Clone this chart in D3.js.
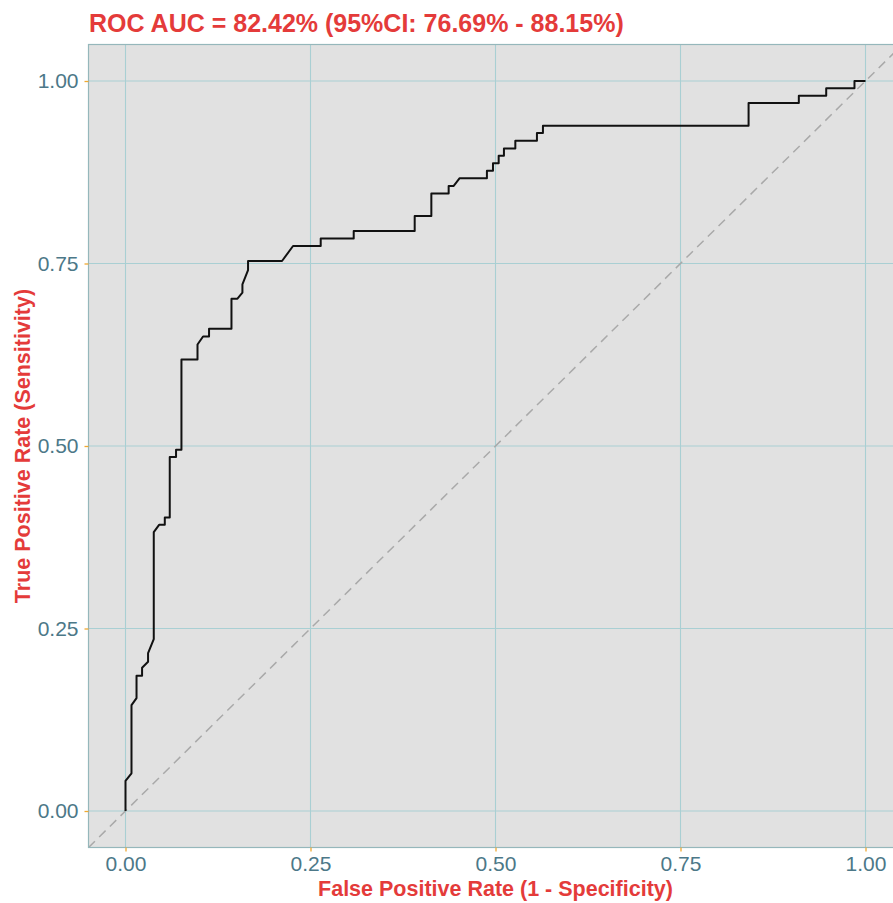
<!DOCTYPE html>
<html>
<head>
<meta charset="utf-8">
<script src="https://cdn.jsdelivr.net/npm/d3@7"></script>
<style>
  html, body { margin: 0; padding: 0; background: #ffffff; }
  svg { display: block; font-family: "Liberation Sans", Arial, Helvetica, sans-serif; }
</style>
</head>
<body>
<svg id="chart" width="893" height="903"></svg>
<script>
// ROC curve points (1 - specificity, sensitivity)
const fpr = [0, 0, 0.0081, 0.0081, 0.0149, 0.0149, 0.0224, 0.0224, 0.0305, 0.0305,
  0.0382, 0.0382, 0.0454, 0.0531, 0.0531, 0.0598, 0.0598, 0.0683, 0.0683, 0.0756,
  0.0756, 0.0973, 0.0973, 0.1048, 0.1129, 0.1129, 0.1432, 0.1432, 0.1513, 0.1580,
  0.1580, 0.1656, 0.1656, 0.2115, 0.2264, 0.2638, 0.2638, 0.3084, 0.3084, 0.3908,
  0.3908, 0.4133, 0.4133, 0.4367, 0.4367, 0.4435, 0.4516, 0.4884, 0.4884, 0.4966,
  0.4966, 0.5043, 0.5043, 0.5114, 0.5114, 0.5268, 0.5268, 0.5560, 0.5560, 0.5641,
  0.5641, 0.8420, 0.8420, 0.9099, 0.9099, 0.9469, 0.9469, 0.9851, 0.9851, 1];
const tpr = [0, 0.0412, 0.0517, 0.1450, 0.1547, 0.1853, 0.1853, 0.1962, 0.2045, 0.2164,
  0.2356, 0.3820, 0.3920, 0.3920, 0.4020, 0.4020, 0.4850, 0.4850, 0.4950, 0.4950,
  0.6185, 0.6185, 0.6390, 0.6500, 0.6500, 0.6606, 0.6606, 0.7018, 0.7018, 0.7100,
  0.7214, 0.7410, 0.7534, 0.7534, 0.7740, 0.7740, 0.7841, 0.7841, 0.7946, 0.7946,
  0.8151, 0.8151, 0.8459, 0.8459, 0.8563, 0.8563, 0.8669, 0.8669, 0.8769, 0.8769,
  0.8875, 0.8875, 0.8975, 0.8975, 0.9076, 0.9076, 0.9180, 0.9180, 0.9286, 0.9286,
  0.9386, 0.9386, 0.9698, 0.9698, 0.9798, 0.9798, 0.9900, 0.9900, 1, 1];

const tickValues = [0, 0.25, 0.5, 0.75, 1];
const tickLabels = ["0.00", "0.25", "0.50", "0.75", "1.00"];

const titleText = "ROC AUC = 82.42% (95%CI: 76.69% - 88.15%)";
const xTitle = "False Positive Rate (1 - Specificity)";
const yTitle = "True Positive Rate (Sensitivity)";

const red = "#e43b3a";
const tickText = "#4c7888";
const gridColor = "#a9cfd3";
const borderColor = "#95b7bb";
const panelFill = "#e1e1e1";
const tickColor = "#f0a830";

const svg = d3.select("#chart");

const panel = { left: 88.5, top: 44.5, right: 902.5, bottom: 847.5 };

const x = d3.scaleLinear().domain([-0.05, 1.05]).range([panel.left, panel.right]);
const y = d3.scaleLinear().domain([-0.05, 1.05]).range([panel.bottom, panel.top]);

// panel background
svg.append("rect")
  .attr("x", panel.left).attr("y", panel.top)
  .attr("width", panel.right - panel.left)
  .attr("height", panel.bottom - panel.top)
  .attr("fill", panelFill);

// grid lines
const grid = svg.append("g");
grid.selectAll("line.gx").data(tickValues).join("line")
  .attr("x1", d => x(d)).attr("x2", d => x(d))
  .attr("y1", panel.top).attr("y2", panel.bottom)
  .attr("stroke", gridColor).attr("stroke-width", 1.1);
grid.selectAll("line.gy").data(tickValues).join("line")
  .attr("y1", d => y(d)).attr("y2", d => y(d))
  .attr("x1", panel.left).attr("x2", panel.right)
  .attr("stroke", gridColor).attr("stroke-width", 1.1);

// reference diagonal
svg.append("clipPath").attr("id", "panelClip").append("rect")
  .attr("x", panel.left).attr("y", panel.top)
  .attr("width", panel.right - panel.left)
  .attr("height", panel.bottom - panel.top);

svg.append("line")
  .attr("clip-path", "url(#panelClip)")
  .attr("x1", x(-0.05)).attr("y1", y(-0.05))
  .attr("x2", x(1.05)).attr("y2", y(1.05))
  .attr("stroke", "#a9a9a9").attr("stroke-width", 1.5)
  .attr("stroke-dasharray", "9,6");

// ROC curve
const pts = fpr.map((f, i) => [f, tpr[i]]);
svg.append("path")
  .datum(pts)
  .attr("fill", "none")
  .attr("stroke", "#111111")
  .attr("stroke-width", 2)
  .attr("stroke-linejoin", "round")
  .attr("d", d3.line().x(d => x(d[0])).y(d => y(d[1])));

// panel border
svg.append("rect")
  .attr("x", panel.left).attr("y", panel.top)
  .attr("width", panel.right - panel.left)
  .attr("height", panel.bottom - panel.top)
  .attr("fill", "none")
  .attr("stroke", borderColor).attr("stroke-width", 1.2);

// axes
const fmt = d => tickLabels[tickValues.indexOf(d)];
const xAxis = svg.append("g")
  .attr("transform", `translate(0,${panel.bottom})`)
  .call(d3.axisBottom(x).tickValues(tickValues).tickFormat(fmt).tickSize(4).tickPadding(5));
const yAxis = svg.append("g")
  .attr("transform", `translate(${panel.left},0)`)
  .call(d3.axisLeft(y).tickValues(tickValues).tickFormat(fmt).tickSize(4).tickPadding(6));

[xAxis, yAxis].forEach(g => {
  g.select(".domain").remove();
  g.selectAll(".tick line").attr("stroke", tickColor).attr("stroke-width", 1.3);
  g.selectAll(".tick text")
    .attr("fill", tickText)
    .style("font-size", "21px")
    .style("font-family", "'Liberation Sans', Arial, sans-serif");
});

// titles
svg.append("text")
  .attr("x", 89).attr("y", 32)
  .attr("fill", red)
  .style("font-size", "25px").style("font-weight", "bold")
  .text(titleText);

svg.append("text")
  .attr("x", (panel.left + panel.right) / 2).attr("y", 896)
  .attr("text-anchor", "middle")
  .attr("fill", red)
  .style("font-size", "21.5px").style("font-weight", "bold")
  .text(xTitle);

svg.append("text")
  .attr("transform", `translate(30,${(panel.top + panel.bottom) / 2}) rotate(-90)`)
  .attr("text-anchor", "middle")
  .attr("fill", red)
  .style("font-size", "21.5px").style("font-weight", "bold")
  .text(yTitle);
</script>
</body>
</html>
